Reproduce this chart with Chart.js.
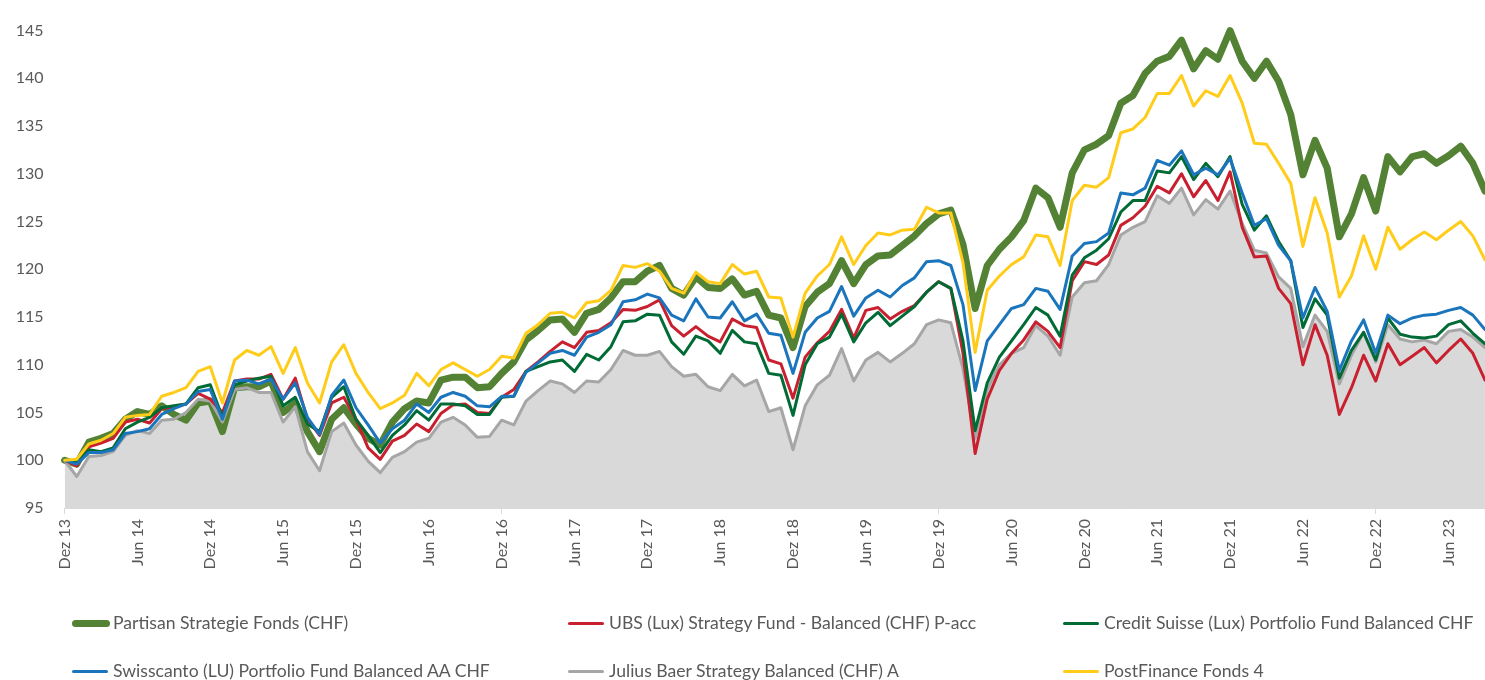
<!DOCTYPE html>
<html>
<head>
<meta charset="utf-8">
<script src="https://cdn.jsdelivr.net/npm/chart.js@4.4.0/dist/chart.umd.min.js"></script>
<style>
  body { margin: 0; background: #fff; }
  #wrap { position: relative; width: 1485px; height: 680px; overflow: hidden; }
  #chartCanvas { position: absolute; left: 0; top: 0; }
  .legItem { position: absolute; height: 20px; font-family: Lato, sans-serif; font-size: 17.6px; color: #595959; white-space: nowrap; }
  .legItem span.sample { position: absolute; left: 0; width: 36px; border-radius: 4px; }
  .legItem span.txt { position: absolute; left: 41px; top: 0; line-height: 20px; }
</style>
</head>
<body>
<div id="wrap">
  <canvas id="chartCanvas" width="1485" height="680"></canvas>
  <div id="legend"></div>
</div>
<script>
// month labels, Dez 13 .. Sep 23 (monthly)
const monthNames = ["Jan", "Feb", "Mär", "Apr", "Mai", "Jun", "Jul", "Aug", "Sep", "Okt", "Nov", "Dez"];
const categories = [];
for (let y = 2013, m = 11; categories.length < 118; m++) {
  if (m == 12) { m = 0; y++; }
  categories.push(monthNames[m] + " " + String(y).slice(2));
}

const seriesNames = [
  "Partisan Strategie Fonds (CHF)",
  "UBS (Lux) Strategy Fund - Balanced (CHF) P-acc",
  "Credit Suisse (Lux) Portfolio Fund Balanced CHF",
  "Swisscanto (LU) Portfolio Fund Balanced AA CHF",
  "Julius Baer Strategy Balanced (CHF) A",
  "PostFinance Fonds 4"
];

const partisan = [
  100.0, 99.6, 101.9, 102.3, 102.8, 104.3, 105.1, 104.8, 105.7, 104.8, 104.2, 106.0, 106.2, 103.0, 107.6, 107.7, 107.7, 108.3, 105.0, 106.0,
  103.0, 100.9, 104.3, 105.5, 103.8, 102.3, 101.6, 104.0, 105.4, 106.2, 106.0, 108.4, 108.7, 108.7, 107.6, 107.7, 109.1, 110.3, 112.6, 113.6,
  114.7, 114.8, 113.4, 115.4, 115.8, 117.0, 118.7, 118.7, 119.8, 120.4, 118.0, 117.3, 119.2, 118.1, 118.0, 119.0, 117.3, 117.7, 115.2, 114.9,
  111.8, 116.1, 117.6, 118.5, 120.9, 118.5, 120.5, 121.4, 121.5, 122.5, 123.5, 124.8, 125.8, 126.2, 122.6, 115.9, 120.4, 122.1, 123.4, 125.1,
  128.5, 127.5, 124.4, 130.1, 132.5, 133.1, 134.0, 137.4, 138.2, 140.5, 141.8, 142.3, 144.0, 141.0, 142.9, 142.0, 145.0, 141.8, 140.0, 141.8,
  139.7, 136.2, 129.9, 133.5, 130.6, 123.4, 125.8, 129.6, 126.1, 131.8, 130.2, 131.8, 132.1, 131.1, 131.9, 132.9, 131.1, 128.2
];
const ubs = [
  100.0, 99.4, 101.4, 101.8, 102.3, 104.0, 104.3, 103.9, 105.4, 105.6, 105.9, 107.0, 106.4, 105.0, 108.3, 108.5, 108.5, 109.0, 106.4, 108.6,
  104.3, 102.6, 106.0, 106.6, 104.3, 101.3, 100.1, 102.0, 102.6, 103.8, 103.0, 104.9, 105.8, 105.9, 105.0, 104.9, 106.6, 107.4, 109.3, 110.3,
  111.4, 112.4, 111.8, 113.4, 113.6, 114.4, 115.8, 115.7, 116.1, 116.8, 114.1, 113.0, 114.0, 113.0, 112.4, 114.8, 114.1, 113.9, 110.5, 110.1,
  106.5, 110.8, 112.3, 113.5, 115.8, 112.8, 115.7, 116.0, 114.8, 115.6, 116.2, 117.6, 118.7, 118.0, 111.2, 100.7, 106.4, 109.4, 111.2, 112.6,
  114.5, 113.5, 111.8, 118.8, 120.8, 120.5, 121.5, 124.6, 125.4, 126.6, 128.7, 128.0, 130.0, 127.6, 129.3, 127.2, 130.2, 124.4, 121.3, 121.4,
  118.0, 116.4, 110.0, 114.2, 111.0, 104.8, 107.6, 111.0, 108.3, 112.2, 110.0, 110.9, 111.8, 110.2, 111.5, 112.7, 111.2, 108.4
];
const creditSuisse = [
  100.0, 99.7, 101.1, 100.9, 101.3, 103.3, 104.0, 104.5, 105.5, 105.7, 105.9, 107.6, 107.9, 104.5, 107.9, 108.3, 108.6, 108.8, 105.7, 106.6,
  103.8, 103.0, 106.6, 107.7, 104.3, 102.6, 100.8, 102.6, 103.7, 105.2, 104.2, 105.9, 105.9, 105.7, 104.8, 104.8, 106.6, 106.7, 109.3, 109.8,
  110.3, 110.5, 109.3, 111.1, 110.5, 111.9, 114.5, 114.6, 115.3, 115.2, 112.4, 111.1, 113.0, 112.5, 111.2, 113.6, 112.4, 112.2, 109.1, 108.9,
  104.7, 110.0, 112.2, 112.9, 115.3, 112.4, 114.4, 115.5, 114.1, 115.1, 116.1, 117.6, 118.7, 118.0, 112.5, 103.1, 108.1, 110.8, 112.5, 114.2,
  116.0, 115.2, 113.0, 119.4, 121.2, 122.0, 123.2, 126.0, 127.2, 127.2, 130.3, 130.1, 131.8, 129.4, 131.1, 129.7, 131.8, 126.8, 124.1, 125.6,
  122.9, 120.9, 113.9, 116.9, 115.2, 108.6, 111.5, 113.4, 110.5, 114.9, 113.2, 112.9, 112.8, 113.0, 114.2, 114.6, 113.3, 112.2
];
const swisscanto = [
  100.0, 99.6, 100.8, 100.8, 101.1, 102.8, 103.0, 103.3, 104.8, 105.4, 105.9, 107.2, 107.4, 104.3, 108.3, 108.4, 108.0, 108.5, 106.4, 108.1,
  104.5, 102.7, 106.8, 108.4, 105.5, 103.7, 101.8, 103.3, 104.2, 105.9, 105.0, 106.6, 107.1, 106.7, 105.7, 105.6, 106.7, 106.7, 109.2, 110.2,
  111.2, 111.5, 111.0, 112.9, 113.4, 114.2, 116.6, 116.8, 117.4, 117.0, 115.2, 114.6, 116.9, 115.0, 114.9, 116.6, 114.6, 115.3, 113.3, 113.1,
  109.1, 113.4, 114.9, 115.6, 118.2, 115.1, 117.0, 117.8, 117.1, 118.3, 119.1, 120.8, 120.9, 120.4, 116.3, 107.3, 112.5, 114.2, 115.9, 116.3,
  118.0, 117.7, 115.8, 121.4, 122.7, 122.9, 123.8, 128.0, 127.8, 128.5, 131.4, 130.9, 132.4, 129.9, 130.6, 129.9, 131.6, 128.0, 124.6, 125.3,
  122.5, 120.9, 114.9, 118.1, 115.6, 109.4, 112.5, 114.7, 111.2, 115.2, 114.3, 114.9, 115.2, 115.3, 115.7, 116.0, 115.2, 113.7
];
const juliusBaer = [
  100.0, 98.3, 100.4, 100.5, 100.9, 102.6, 103.1, 102.8, 104.2, 104.3, 105.0, 106.4, 106.2, 104.0, 107.4, 107.6, 107.1, 107.1, 104.0, 105.6,
  100.9, 98.9, 103.0, 103.9, 101.6, 99.9, 98.7, 100.3, 100.9, 101.9, 102.3, 104.0, 104.5, 103.7, 102.4, 102.5, 104.2, 103.7, 106.2, 107.3,
  108.3, 108.0, 107.1, 108.3, 108.2, 109.5, 111.5, 111.0, 111.0, 111.4, 109.8, 108.8, 109.0, 107.7, 107.3, 109.0, 107.8, 108.4, 105.1, 105.5,
  101.1, 105.7, 107.9, 108.9, 111.7, 108.3, 110.5, 111.3, 110.3, 111.2, 112.2, 114.2, 114.7, 114.4, 109.6, 102.3, 107.4, 110.0, 111.2, 111.8,
  114.1, 113.0, 111.0, 117.1, 118.6, 118.8, 120.5, 123.6, 124.4, 125.0, 127.7, 126.9, 128.5, 125.7, 127.3, 126.3, 128.2, 124.8, 122.0, 121.7,
  119.2, 118.0, 111.9, 115.2, 113.5, 108.0, 111.0, 113.4, 110.3, 114.2, 112.7, 112.4, 112.6, 112.2, 113.5, 113.7, 112.9, 111.8
];
const postFinance = [
  100.0, 100.1, 101.7, 102.1, 102.8, 104.5, 104.7, 104.8, 106.7, 107.1, 107.6, 109.3, 109.8, 106.0, 110.5, 111.5, 111.0, 111.9, 109.1, 111.8,
  108.1, 106.0, 110.3, 112.1, 109.1, 107.1, 105.4, 106.0, 106.8, 109.1, 107.8, 109.5, 110.2, 109.5, 108.8, 109.5, 110.9, 110.7, 113.3, 114.2,
  115.4, 115.5, 114.9, 116.5, 116.7, 117.8, 120.4, 120.2, 120.6, 119.8, 118.0, 117.5, 119.7, 118.7, 118.5, 120.5, 119.5, 119.8, 117.1, 117.0,
  112.9, 117.5, 119.3, 120.5, 123.4, 120.5, 122.5, 123.8, 123.6, 124.1, 124.2, 126.5, 125.9, 125.9, 120.7, 111.3, 117.8, 119.3, 120.5, 121.3,
  123.6, 123.4, 120.4, 127.2, 128.8, 128.6, 129.6, 134.3, 134.7, 135.9, 138.4, 138.4, 140.3, 137.1, 138.7, 138.1, 140.3, 137.4, 133.2, 133.1,
  131.1, 129.0, 122.4, 127.5, 123.8, 117.1, 119.3, 123.5, 120.0, 124.4, 122.1, 123.1, 123.9, 123.1, 124.1, 125.0, 123.5, 121.0
];

const seriesValues = [partisan, ubs, creditSuisse, swisscanto, juliusBaer, postFinance];
const seriesColors = ["#548235", "#C8202F", "#006B35", "#1B75BC", "#A6A6A6", "#FFCC1A"];
const seriesWidths = [7, 3, 3, 3, 3, 3];
const drawOrder = [6, 4, 3, 2, 5, 1];   // higher = drawn first (further back)
const areaColor = "#D9D9D9";

const yTicks = { min: 95, max: 145, step: 5 };
const textColor = "#595959";

var canvas = document.getElementById("chartCanvas");

const datasets = seriesNames.map(function(name, k) {
  return {
    label: name,
    data: seriesValues[k],
    borderColor: seriesColors[k],
    backgroundColor: k == 4 ? areaColor : seriesColors[k],
    borderWidth: seriesWidths[k],
    fill: k == 4 ? 'start' : false,
    pointRadius: 0,
    pointHoverRadius: 0,
    tension: 0,
    borderJoinStyle: 'round',
    borderCapStyle: 'round',
    order: drawOrder[k],
    clip: false
  };
});

new Chart(canvas, {
  type: 'line',
  data: { labels: categories, datasets: datasets },
  options: {
    responsive: false,
    animation: false,
    events: [],
    layout: { padding: { top: 19, right: 0, bottom: 87, left: 0 } },
    plugins: {
      legend: { display: false },
      tooltip: { enabled: false },
      filler: { drawTime: 'beforeDatasetsDraw' }
    },
    scales: {
      x: {
        offset: false,
        grid: {
          drawOnChartArea: false,
          tickLength: 6,
          color: function(ctx) { return ctx.index % 6 == 0 ? '#D9D9D9' : 'rgba(0,0,0,0)'; }
        },
        border: { display: true, color: '#D9D9D9' },
        ticks: {
          autoSkip: false,
          maxRotation: 90,
          minRotation: 90,
          padding: 5,
          color: textColor,
          font: { family: 'Lato', size: 16 },
          callback: function(val, idx) { return idx % 6 == 0 ? categories[idx] : null; }
        },
        afterFit: function(s) { s.height = 85; }
      },
      y: {
        min: yTicks.min,
        max: yTicks.max,
        grid: { display: false, drawTicks: false },
        border: { display: false },
        ticks: {
          stepSize: yTicks.step,
          padding: 21,
          color: textColor,
          font: { family: 'Lato', size: 16 }
        },
        afterFit: function(s) { s.width = 64.6; }
      }
    }
  }
});

// legend: 3 columns x 2 rows, as in the original
const legCols = [72, 568, 1063];
const legRows = [613, 661];
var legend = document.getElementById("legend");
seriesNames.forEach(function(name, k) {
  var item = document.createElement("div");
  item.className = "legItem";
  item.style.left = legCols[k % 3] + "px";
  item.style.top = legRows[Math.floor(k / 3)] + "px";
  var s = document.createElement("span");
  s.className = "sample";
  s.style.background = seriesColors[k];
  s.style.height = seriesWidths[k] + "px";
  s.style.top = (10 - seriesWidths[k] / 2) + "px";
  if (k == 0) { s.style.width = "38px"; }
  var t = document.createElement("span");
  t.className = "txt";
  t.textContent = name;
  item.appendChild(s);
  item.appendChild(t);
  legend.appendChild(item);
});
</script>
</body>
</html>
